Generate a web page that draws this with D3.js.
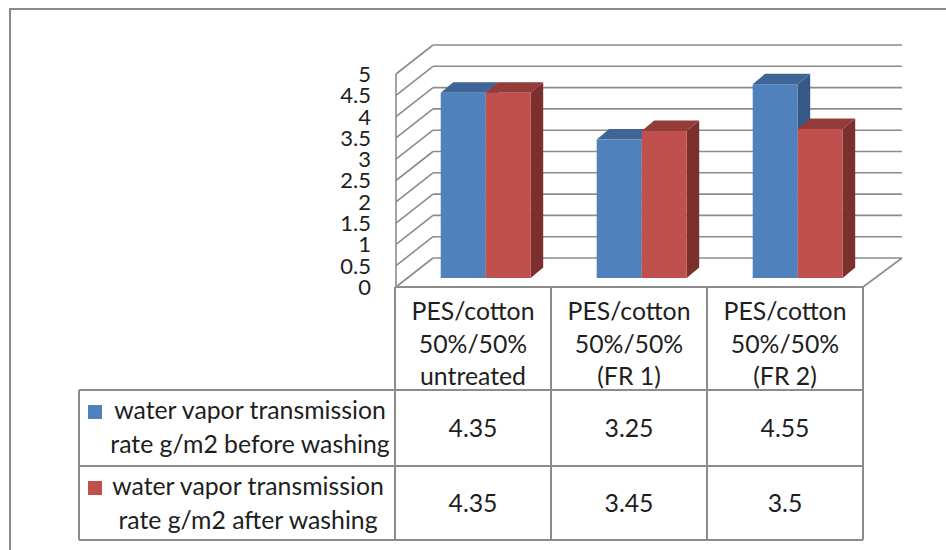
<!DOCTYPE html>
<html><head><meta charset="utf-8">
<script src="https://cdn.jsdelivr.net/npm/d3@7/dist/d3.min.js"></script>
<style>body{margin:0;background:#fff}svg{display:block}text{font-family:Lato,"Open Sans",sans-serif;fill:#1e1e1e}</style>
</head><body><svg id="c" width="946" height="550"></svg>
<script>
const categories = [["PES/cotton","50%/50%","untreated"],["PES/cotton","50%/50%","(FR 1)"],["PES/cotton","50%/50%","(FR 2)"]];
const seriesNames = [["water vapor transmission","rate g/m2 before washing"],["water vapor transmission","rate g/m2 after washing"]];
const beforeWashing = [4.35, 3.25, 4.55];
const afterWashing = [4.35, 3.45, 3.5];
const valueLabels = [["4.35","3.25","4.55"],["4.35","3.45","3.5"]];
const yTicks = [0,0.5,1,1.5,2,2.5,3,3.5,4,4.5,5];
const colors = [{front:"#4F81BD",top:"#3E6595",side:"#355A86"},{front:"#C0504D",top:"#943C3A",side:"#7C302E"}];
const series = [beforeWashing, afterWashing];

const svg = d3.select("#c");
const grid = "#8c8c8c";
const fx0 = 395, fx1 = 863, fy0 = 287;
const depthX = 38, depthY = 29;
const h = d3.scaleLinear().domain([0,5]).range([0,213]);
const x = d3.scaleBand().domain([0,1,2]).range([fx0, fx1]);
svg.append("path").attr("d","M10,550V9H946").attr("fill","none").attr("stroke","#8a8a8a").attr("stroke-width",2);
yTicks.forEach(v=>{
  const yb = fy0 - depthY - h(v), yf = fy0 - h(v);
  svg.append("line").attr("x1",fx0+depthX).attr("x2",902).attr("y1",yb).attr("y2",yb).attr("stroke",grid).attr("stroke-width",1.6);
  svg.append("line").attr("x1",fx0+1).attr("y1",yf).attr("x2",fx0+depthX).attr("y2",yb).attr("stroke",grid).attr("stroke-width",1.6);
  svg.append("text").attr("x",371).attr("y",yf).attr("dy","0.36em").attr("text-anchor","end").attr("font-size",22).text(v);
});
svg.append("line").attr("x1",fx0+1).attr("x2",fx0+1).attr("y1",fy0-h(5)).attr("y2",fy0).attr("stroke",grid).attr("stroke-width",1.6);
svg.append("line").attr("x1",fx1).attr("y1",fy0).attr("x2",902).attr("y2",fy0-depthY).attr("stroke",grid).attr("stroke-width",1.6);

const barW = 45, shiftX = 12.7, baseY = 278, bdx = 12.5, bdy = 10.5;
[0,1,2].forEach(i=>{
  series.forEach((s,k)=>{
    const c = colors[k];
    const cx = x(i) + x.bandwidth()/2 + shiftX;
    const x0 = cx - barW + k*barW, x1 = x0 + barW;
    const yt = baseY - h(s[i]);
    const g = svg.append("g");
    g.append("path").attr("d",`M${x1},${yt}L${x1+bdx},${yt-bdy}L${x1+bdx},${baseY-bdy}L${x1},${baseY}Z`).attr("fill",c.side);
    g.append("path").attr("d",`M${x0},${yt}L${x0+bdx},${yt-bdy}L${x1+bdx},${yt-bdy}L${x1},${yt}Z`).attr("fill",c.top);
    g.append("rect").attr("x",x0).attr("y",yt).attr("width",barW).attr("height",h(s[i])).attr("fill",c.front);
  });
});

function ln(x1,y1,x2,y2){svg.append("line").attr("x1",x1).attr("y1",y1).attr("x2",x2).attr("y2",y2).attr("stroke",grid).attr("stroke-width",2);}
const rowY = [287, 390, 466, 540], legX = 79;
ln(fx0,rowY[0],fx1,rowY[0]);
ln(legX,rowY[1],fx1,rowY[1]); ln(legX,rowY[2],fx1,rowY[2]); ln(legX,rowY[3],fx1,rowY[3]);
ln(legX,rowY[1],legX,rowY[3]);
[0,1,2,3].forEach(i=>{ const xx = i<3 ? x(i) : fx1; ln(xx,rowY[0],xx,rowY[3]); });
const fs = 24.8;
categories.forEach((lines,i)=>{
  lines.forEach((t,j)=>svg.append("text").attr("x",x(i)+x.bandwidth()/2).attr("y",320+j*32.5).attr("text-anchor","middle").attr("font-size",fs).text(t));
});
valueLabels.forEach((row,k)=>{
  row.forEach((t,i)=>svg.append("text").attr("x",x(i)+x.bandwidth()/2).attr("y",(rowY[k+1]+rowY[k+2])/2).attr("dy","0.36em").attr("text-anchor","middle").attr("font-size",fs).text(t));
});
seriesNames.forEach((lines,k)=>{
  const top = rowY[k+1];
  svg.append("rect").attr("x",88).attr("y",top+15).attr("width",14).attr("height",14).attr("fill",colors[k].front);
  lines.forEach((t,j)=>svg.append("text").attr("x",250-k*2).attr("y",top+29+j*33.5).attr("text-anchor","middle").attr("font-size",fs).text(t));
});
</script></body></html>
